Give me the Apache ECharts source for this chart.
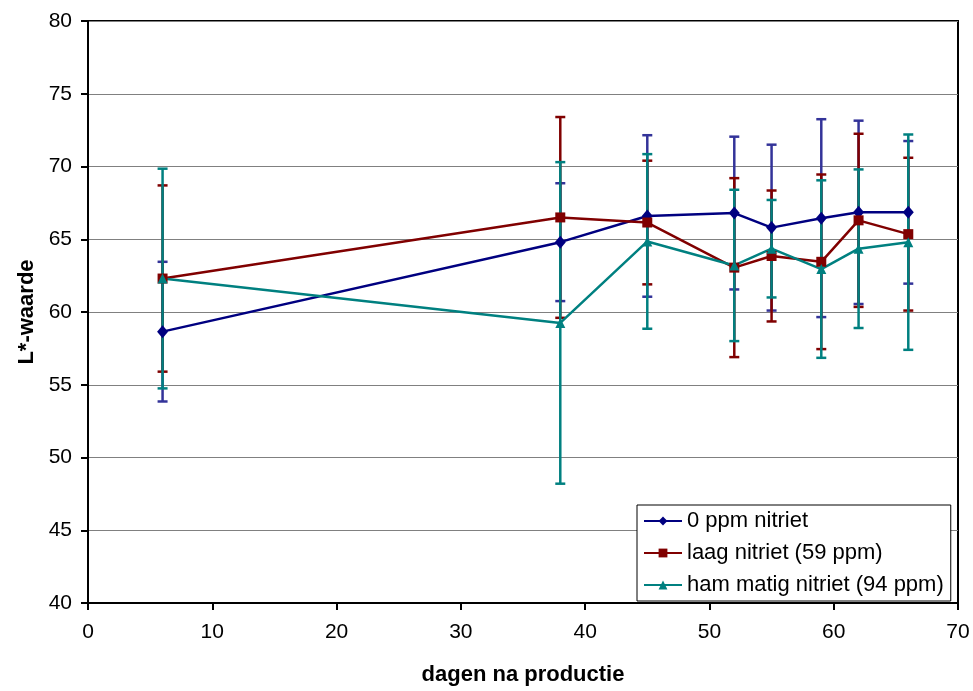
<!DOCTYPE html>
<html>
<head>
<meta charset="utf-8">
<script src="https://cdn.jsdelivr.net/npm/echarts@6/dist/echarts.min.js"></script>
<style>
  html, body { margin: 0; padding: 0; background: #fff; }
  #chart { width: 973px; height: 691px; }
</style>
</head>
<body>
<div id="chart"></div>
<script>
// dagen na productie
var days = [6, 38, 45, 52, 55, 59, 62, 66];

// L*-waarde, gemiddelde en standaardafwijking per groep
var nulPpm = [58.65, 64.8, 66.6, 66.8, 65.8, 66.45, 66.85, 66.85];
var nulPpmErr = [4.8, 4.05, 5.55, 5.25, 5.7, 6.8, 6.3, 4.9];
var laag = [62.3, 66.5, 66.15, 63.05, 63.85, 63.45, 66.3, 65.35];
var laagErr = [6.4, 6.9, 4.25, 6.15, 4.5, 6.0, 5.95, 5.25];
var matig = [62.3, 59.25, 64.85, 63.2, 64.35, 62.95, 64.35, 64.8];
var matigErr = [7.55, 11.05, 6.0, 5.2, 3.35, 6.1, 5.45, 7.4];

var names = ['0 ppm nitriet', 'laag nitriet (59 ppm)', 'ham matig nitriet (94 ppm)'];
var font = 'Liberation Sans, Arial, sans-serif';

function points(ys) {
    return days.map(function (d, i) { return [d, ys[i]]; });
}
function bars(ys, errs) {
    return days.map(function (d, i) { return [d, ys[i] - errs[i], ys[i] + errs[i]]; });
}

function errorSeries(ys, errs, color) {
    return {
        type: 'custom',
        silent: true,
        z: 1,
        data: bars(ys, errs),
        encode: {x: 0, y: [1, 2]},
        renderItem: function (params, api) {
            var lo = api.coord([api.value(0), api.value(1)]);
            var hi = api.coord([api.value(0), api.value(2)]);
            var w = 5;
            var style = {stroke: color, lineWidth: 2.5};
            return {
                type: 'group',
                children: [
                    {type: 'line', shape: {x1: lo[0], y1: lo[1], x2: hi[0], y2: hi[1]}, style: style},
                    {type: 'line', shape: {x1: lo[0] - w, y1: lo[1], x2: lo[0] + w, y2: lo[1]}, style: style},
                    {type: 'line', shape: {x1: hi[0] - w, y1: hi[1], x2: hi[0] + w, y2: hi[1]}, style: style}
                ]
            };
        }
    };
}

function lineSeries(name, ys, color, symbol, size) {
    return {
        name: name,
        type: 'line',
        z: 3,
        data: points(ys),
        symbol: symbol,
        symbolSize: size,
        showAllSymbol: true,
        lineStyle: {color: color, width: 2.5},
        itemStyle: {color: color},
        emphasis: {disabled: true}
    };
}

var chart = echarts.init(document.getElementById('chart'));
var option = {
    backgroundColor: '#fff',
    animation: false,
    grid: {
        left: 88, right: 15, top: 21, bottom: 86,
        show: true,
        borderColor: '#000',
        borderWidth: 2
    },
    legend: {
        data: names,
        orient: 'vertical',
        left: 637,
        top: 505,
        padding: [5, 7, 5, 6],
        itemGap: 10,
        itemWidth: 38,
        itemHeight: 11,
        backgroundColor: '#fff',
        borderColor: '#000',
        borderWidth: 1,
        textStyle: {fontFamily: font, fontSize: 22, color: '#000', lineHeight: 22}
    },
    xAxis: {
        type: 'value',
        min: 0, max: 70, interval: 10,
        name: 'dagen na productie',
        nameLocation: 'middle',
        nameGap: 61,
        nameTextStyle: {fontFamily: font, fontSize: 22, fontWeight: 'bold', color: '#000'},
        axisLine: {onZero: false, lineStyle: {color: '#000', width: 2}},
        axisTick: {length: 7, lineStyle: {color: '#000', width: 2}},
        axisLabel: {margin: 19, fontFamily: font, fontSize: 21, color: '#000'},
        splitLine: {show: false}
    },
    yAxis: {
        type: 'value',
        min: 40, max: 80, interval: 5,
        name: 'L*-waarde',
        nameLocation: 'middle',
        nameGap: 47,
        nameTextStyle: {fontFamily: font, fontSize: 22, fontWeight: 'bold', color: '#000'},
        axisLine: {show: true, onZero: false, lineStyle: {color: '#000', width: 2}},
        axisTick: {show: true, length: 7, lineStyle: {color: '#000', width: 2}},
        axisLabel: {margin: 16, fontFamily: font, fontSize: 21, color: '#000'},
        splitLine: {show: true, lineStyle: {color: '#808080', width: 1}}
    },
    series: [
        errorSeries(nulPpm, nulPpmErr, '#333399'),
        errorSeries(laag, laagErr, '#800000'),
        errorSeries(matig, matigErr, '#008080'),
        lineSeries(names[0], nulPpm, '#000080', 'diamond', [11, 13]),
        lineSeries(names[1], laag, '#800000', 'rect', 10),
        lineSeries(names[2], matig, '#008080', 'triangle', 10)
    ]
};
chart.setOption(option);
</script>
</body>
</html>
